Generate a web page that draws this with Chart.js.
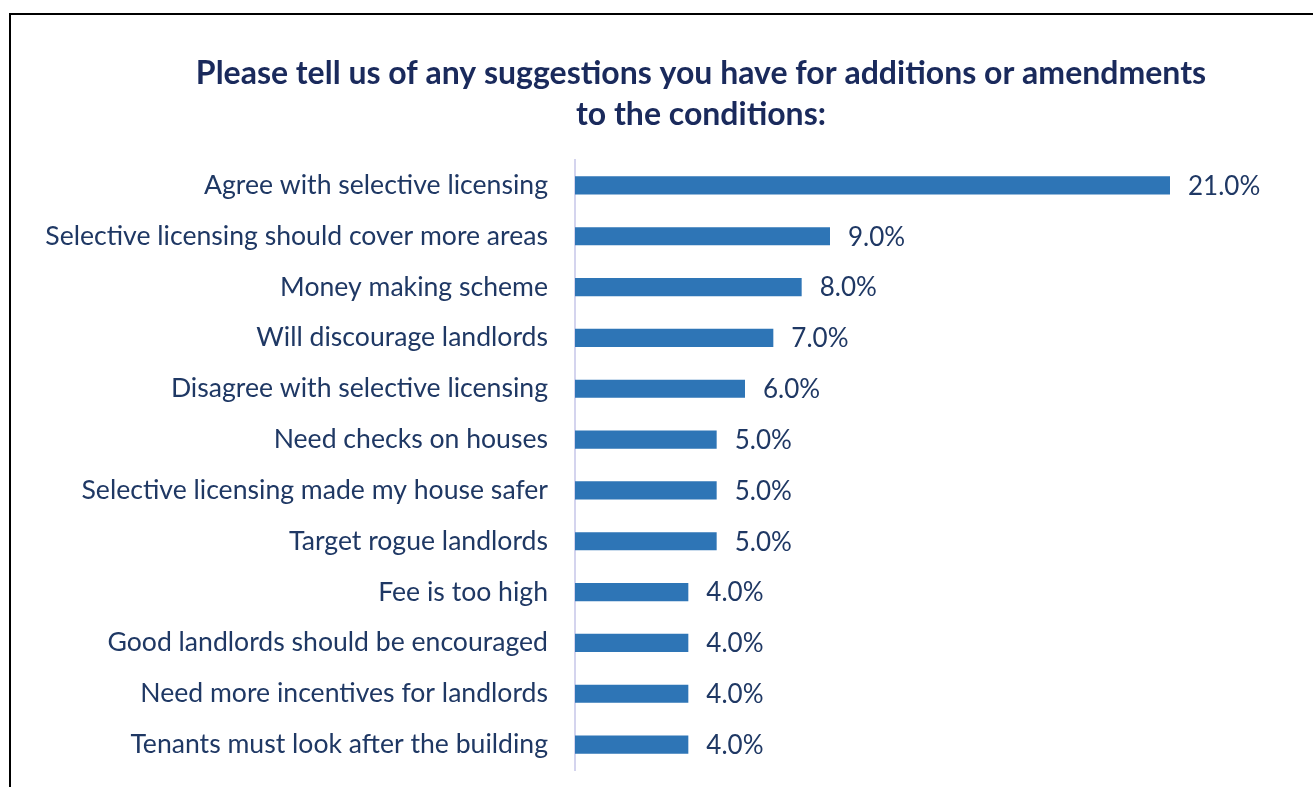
<!DOCTYPE html>
<html>
<head>
<meta charset="utf-8">
<script src="https://cdn.jsdelivr.net/npm/chart.js"></script>
<style>
	html, body{ margin:0; padding:0; background:#fff; }
	#wrap{ position:relative; width:1313px; height:787px; overflow:hidden; }
	#frame{ position:absolute; left:9px; top:13px; right:-10px; bottom:-10px; border-left:2px solid #000; border-top:2px solid #000; pointer-events:none; }
	canvas{ position:absolute; left:0; top:0; }
</style>
</head>
<body>
<div id="wrap">
	<canvas id="c" width="1313" height="787"></canvas>
	<div id="frame"></div>
</div>
<script>
var categories = [
	'Agree with selective licensing',
	'Selective licensing should cover more areas',
	'Money making scheme',
	'Will discourage landlords',
	'Disagree with selective licensing',
	'Need checks on houses',
	'Selective licensing made my house safer',
	'Target rogue landlords',
	'Fee is too high',
	'Good landlords should be encouraged',
	'Need more incentives for landlords',
	'Tenants must look after the building'
];
var shares = [21.0, 9.0, 8.0, 7.0, 6.0, 5.0, 5.0, 5.0, 4.0, 4.0, 4.0, 4.0];
var titleLines = [
	'Please tell us of any suggestions you have for additions or amendments',
	'to the conditions:'
];

var textColor = '#1f3864';
var barColor = '#2e75b6';
var fontFamily = 'Lato, "Open Sans", sans-serif';

// заголовок рисуем сами: центр у него правее, чем у области графика
var titleDraw = {
	id: 'titleDraw',
	afterDraw: function(chart){
		var ctx = chart.ctx;
		ctx.save();
		ctx.font = 'bold 32px ' + fontFamily;
		ctx.fillStyle = '#1a2a5c';
		ctx.textAlign = 'center';
		ctx.textBaseline = 'middle';
		titleLines.forEach(function(t, i){
			ctx.fillText(t, 701, 74 + i * 41);
		});
		ctx.restore();
	}
};

// подписи значений справа от столбцов
var valueLabels = {
	id: 'valueLabels',
	afterDatasetsDraw: function(chart){
		var ctx = chart.ctx;
		var meta = chart.getDatasetMeta(0);
		ctx.save();
		ctx.font = '26px ' + fontFamily;
		ctx.fillStyle = textColor;
		ctx.textAlign = 'left';
		ctx.textBaseline = 'middle';
		meta.data.forEach(function(bar, i){
			ctx.fillText(shares[i].toFixed(1) + '%', bar.x + 18, bar.y + 1);
		});
		ctx.restore();
	}
};

new Chart(document.getElementById('c'), {
	type: 'bar',
	data: {
		labels: categories,
		datasets: [{
			data: shares,
			backgroundColor: barColor,
			borderWidth: 0,
			barPercentage: 0.7,
			categoryPercentage: 0.51
		}]
	},
	options: {
		indexAxis: 'y',
		responsive: false,
		animation: false,
		layout: { padding: { left: 0, right: 143, top: 160, bottom: 17 } },
		plugins: {
			legend: { display: false },
			tooltip: { enabled: false },
			title: { display: false }
		},
		scales: {
			x: {
				display: false,
				min: 0,
				max: 21
			},
			y: {
				grid: { display: false, drawTicks: false },
				border: { display: true, color: '#d4d4ee', width: 2 },
				ticks: {
					color: textColor,
					padding: 27,
					font: { family: fontFamily, size: 26.6 }
				},
				afterFit: function(s){
					s.width = 575;
					s.paddingTop = 0;
					s.paddingBottom = 0;
				}
			}
		}
	},
	plugins: [valueLabels, titleDraw]
});
</script>
</body>
</html>
